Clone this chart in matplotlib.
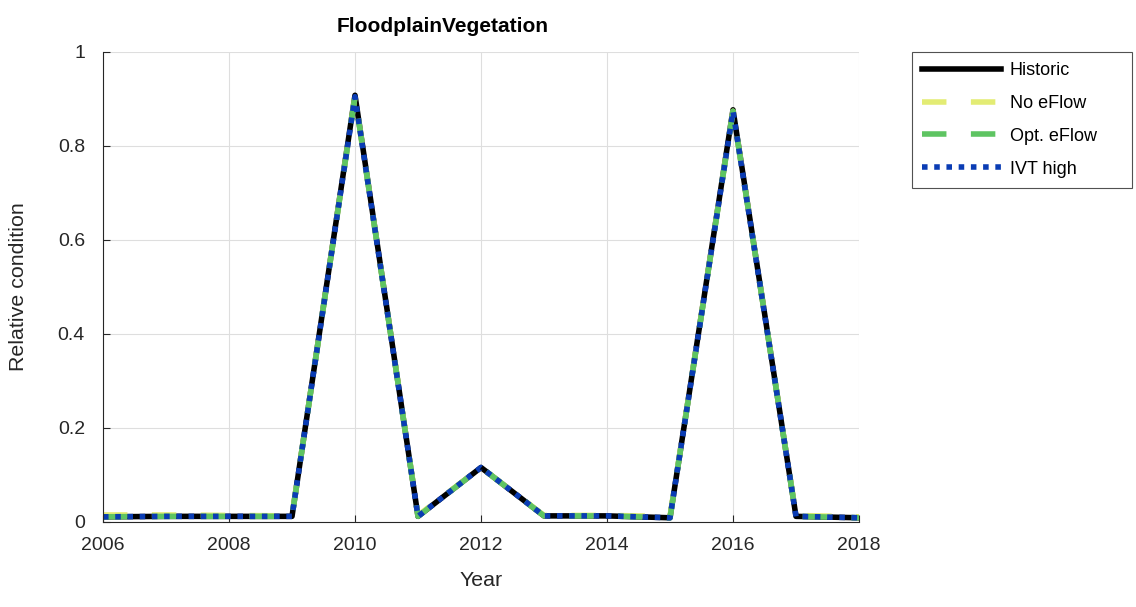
import numpy as np
import matplotlib
matplotlib.use('Agg')
import matplotlib.pyplot as plt

plt.rcParams['font.family'] = ['Liberation Sans', 'DejaVu Sans']

years = [2006, 2007, 2008, 2009, 2010, 2011, 2012, 2013, 2014, 2015, 2016, 2017, 2018]
historic = [0.011, 0.012, 0.012, 0.012, 0.908, 0.012, 0.116, 0.013, 0.013, 0.009, 0.877, 0.012, 0.009]
no_eflow = [0.015, 0.015, 0.014, 0.013, 0.905, 0.014, 0.116, 0.014, 0.014, 0.012, 0.874, 0.014, 0.011]
opt_eflow = [0.011, 0.012, 0.012, 0.012, 0.905, 0.012, 0.116, 0.013, 0.013, 0.009, 0.874, 0.012, 0.009]
ivt_high = [0.011, 0.012, 0.012, 0.012, 0.905, 0.012, 0.116, 0.013, 0.013, 0.009, 0.874, 0.012, 0.009]
y_ticks = [0, 0.2, 0.4, 0.6, 0.8, 1]
y_labels = ['0', '0.2', '0.4', '0.6', '0.8', '1']

W, H = 1136, 607
fig = plt.figure(figsize=(W / 100, H / 100), dpi=100)
ax = fig.add_axes([103 / W, 1 - 522 / H, 756 / W, 470 / H])

lw = 4.0
ax.plot(years, historic, color='black', linewidth=lw, label='Historic')
ax.plot(years, no_eflow, color='#e3ec74', linewidth=lw, linestyle=(0, (4.4, 4.4)),
        dash_capstyle='butt', label='No eFlow')
ax.plot(years, opt_eflow, color='#5ec462', linewidth=lw, linestyle=(0, (4.4, 4.4)),
        dash_capstyle='butt', label='Opt. eFlow')
ax.plot(years, ivt_high, color='#0a3cb4', linewidth=lw, linestyle=(0, (1, 1.2)),
        dash_capstyle='butt', label='IVT high')

ax.set_xlim(2006, 2018)
ax.set_ylim(0, 1)
ax.set_xticks(np.arange(2006, 2019, 2))
ax.set_yticks(y_ticks)
ax.set_yticklabels(y_labels)
ax.grid(True, color='#dedede', linewidth=0.8)
ax.set_axisbelow(True)
for s in ['top', 'right']:
    ax.spines[s].set_visible(False)
for s in ['left', 'bottom']:
    ax.spines[s].set_color('#262626')
ax.tick_params(direction='in', length=5, labelsize=14, colors='#262626')
ax.tick_params(axis='x', pad=11)
ax.tick_params(axis='y', pad=13)

ax.set_xlabel('Year', fontsize=15.4, color='#262626')
ax.xaxis.set_label_coords((481 - 103) / 756, (522 - 580) / 470)
ax.xaxis.label.set_va('center')
ax.set_ylabel('Relative condition', fontsize=15.4, color='#262626')
ax.yaxis.set_label_coords((19 - 103) / 756, 0.5)
ax.yaxis.label.set_va('center')
ax.yaxis.label.set_ha('center')

fig.text(443 / W, 1 - 26 / H, 'FloodplainVegetation', fontsize=15, fontweight='bold',
         ha='center', va='center')

leg_h = 136 / H
leg = fig.legend(loc='upper left', bbox_to_anchor=(912 / W, 1 - 52 / H - leg_h, 220 / W, leg_h),
                 bbox_transform=fig.transFigure, mode='expand', fontsize=13,
                 frameon=True, fancybox=False, edgecolor='#262626',
                 handlelength=4.4, handletextpad=0.45, borderpad=0.55, labelspacing=0.88,
                 borderaxespad=0)
leg.get_frame().set_linewidth(0.8)

fig.savefig('out.png', dpi=100)
